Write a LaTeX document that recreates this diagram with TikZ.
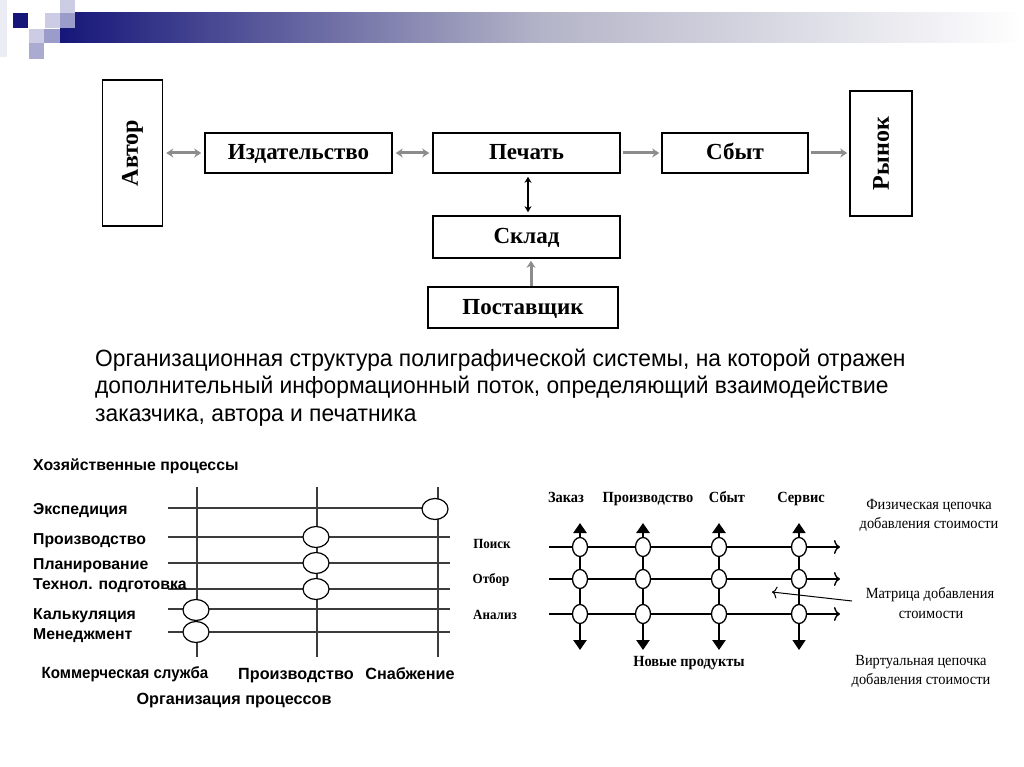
\documentclass[tikz,border=0pt]{standalone}
\usepackage{fontspec}
\setmainfont{Liberation Serif}
\newfontfamily\capfont[FakeStretch=0.97]{Liberation Sans}
\newfontfamily\lblfont{Liberation Sans}
\newfontfamily\nserfont[FakeStretch=0.93]{Liberation Serif}
\usetikzlibrary{shapes.geometric,arrows.meta}
\pgfdeclarelayer{back}
\pgfdeclarelayer{bg}
\pgfsetlayers{back,bg,main}
\definecolor{navy}{RGB}{22,22,122}
\definecolor{navymid}{RGB}{180,180,200}
\definecolor{sqlight}{RGB}{204,204,228}
\definecolor{sqmid}{RGB}{156,156,202}
\definecolor{sqfaint}{RGB}{236,236,244}
\definecolor{arrgray}{RGB}{140,140,140}
\definecolor{gridgray}{RGB}{60,60,60}
\tikzset{
  box/.style={draw=black,line width=1.6pt,fill=white,inner sep=0pt,text height=13pt,text depth=0pt,font=\fontsize{23}{26}\selectfont\bfseries},
  vtext/.style={rotate=90,inner sep=0pt,font=\fontsize{24}{26}\selectfont\bfseries},
  garrow/.style={draw=arrgray,line width=3pt,-{Stealth[length=7pt,width=9pt]}},
  gdarrow/.style={draw=arrgray,line width=3pt,{Stealth[length=7pt,width=9pt]}-{Stealth[length=7pt,width=9pt]}},
  caption/.style={anchor=base west,inner sep=0pt,font=\capfont\fontsize{23.5}{27}\selectfont},
  llabel/.style={anchor=base west,inner sep=0pt,font=\lblfont\fontsize{15.8}{18}\selectfont\bfseries},
  blabel/.style={anchor=base,inner sep=0pt,font=\lblfont\fontsize{16.2}{18}\selectfont\bfseries},
  rlabel/.style={anchor=base,inner sep=0pt,font=\nserfont\fontsize{14}{16}\selectfont\bfseries},
  clabel/.style={anchor=base,inner sep=0pt,font=\nserfont\fontsize{15.5}{17}\selectfont\bfseries},
  note/.style={anchor=base,inner sep=0pt,font=\nserfont\fontsize{15.5}{17}\selectfont},
  lgrid/.style={draw=gridgray,line width=1.5pt},
  lell/.style={draw=black,line width=1.2pt,fill=white,ellipse,minimum width=26pt,minimum height=21pt,inner sep=0pt},
  rell/.style={draw=black,line width=1.3pt,fill=white,ellipse,minimum width=15pt,minimum height=19pt,inner sep=0pt},
  rhline/.style={draw=black,line width=2.8pt,-{To[length=6pt,width=14pt,line width=1.4pt]}},
  rvline/.style={draw=black,line width=2.8pt},
  rvthin/.style={draw=black,line width=1.3pt},
  uptip/.style={-{Triangle[length=10pt,width=13pt]}},
}
\begin{document}
\begin{tikzpicture}[x=1pt,y=-1pt]
\useasboundingbox (0,0) rectangle (1024,767);
\begin{pgfonlayer}{back}
\fill[white] (0,0) rectangle (1024,767);
\end{pgfonlayer}

% ---------- header ----------
\shade[left color=navy,right color=white,middle color=navymid] (60,13) rectangle (1024,43);
\fill[sqfaint] (0,0) rectangle (7,57);
\fill[sqlight] (60,0) rectangle (75,13);
\fill[navy] (13,13) rectangle (28,28);
\fill[sqlight] (45,13) rectangle (60,28);
\fill[sqmid] (60,13) rectangle (75,28);
\fill[sqlight] (29,29) rectangle (44,43);
\fill[sqmid] (44,29) rectangle (60,43);
\fill[sqmid!85!white] (29,43) rectangle (44,59);

% ---------- top diagram ----------
\node[box,minimum width=60pt,minimum height=146pt] (avtor) at (132.5,153) {};
\node[vtext] (avtort) at (avtor.center) {Автор};
\node[box,minimum width=187pt,minimum height=40pt] (izd) at (298.5,153) {Издательство};
\node[box,minimum width=187pt,minimum height=40pt] (pech) at (526.5,153) {Печать};
\node[box,minimum width=146pt,minimum height=40pt] (sbyt) at (735,153) {Сбыт};
\node[box,minimum width=62pt,minimum height=125pt] (rynok) at (881,153.5) {};
\node[vtext] (rynokt) at (rynok.center) {Рынок};
\node[box,minimum width=187pt,minimum height=42pt] (sklad) at (526.5,237) {Склад};
\node[box,minimum width=190pt,minimum height=41pt] (post) at (523,307.5) {Поставщик};

\draw[gdarrow,shorten <=3pt,shorten >=3pt] (avtor.east |- izd.west) -- (izd.west);
\draw[gdarrow,shorten <=3pt,shorten >=3pt] (izd.east) -- (pech.west);
\draw[garrow,shorten <=2pt,shorten >=2pt] (pech.east) -- (sbyt.west);
\draw[garrow,shorten <=2pt,shorten >=2pt] (sbyt.east) -- (sbyt.east -| rynok.west);
\draw[black,line width=1.3pt,{Stealth[length=6pt,width=7pt]}-{Stealth[length=6pt,width=7pt]},shorten <=3pt,shorten >=3pt]
  ([xshift=1.5pt]pech.south) -- ([xshift=1.5pt]sklad.north);
\draw[garrow,shorten >=2pt] ([xshift=8pt]post.north) -- ([xshift=8pt]post.north |- sklad.south);

% ---------- caption ----------
\node[caption] (cap1) at (95,366) {Организационная структура полиграфической системы, на которой отражен};
\node[caption] (cap2) at (95,393) {дополнительный информационный поток, определяющий взаимодействие};
\node[caption] (cap3) at (95,421) {заказчика, автора и печатника};

% ---------- bottom-left diagram ----------
\node[llabel] (hoz) at (33,470) {Хозяйственные процессы};
\node[llabel] (l1) at (33,514) {Экспедиция};
\node[llabel] (l2) at (33,544) {Производство};
\node[llabel] (l3) at (33,569) {Планирование};
\node[llabel] (l4) at (33,589) {Технол. подготовка};
\node[llabel] (l5) at (33,619) {Калькуляция};
\node[llabel] (l6) at (33,639) {Менеджмент};

\foreach \n/\y in {1/508,2/537,3/563,4/589,5/609,6/632}{
  \coordinate (hs\n) at (168,\y);
  \coordinate (he\n) at (450,\y);
}
\coordinate (he1) at (430,508);
\foreach \n/\x in {1/197,2/317,3/438}{
  \coordinate (vs\n) at (\x,487);
  \coordinate (ve\n) at (\x,657);
}
\begin{pgfonlayer}{bg}
\foreach \n in {1,...,6}{ \draw[lgrid] (hs\n) -- (he\n); }
\foreach \n in {1,2,3}{ \draw[lgrid] (vs\n) -- (ve\n); }
\end{pgfonlayer}
\node[lell] (e1) at (435,509) {};
\node[lell] (e2) at (316,537) {};
\node[lell] (e3) at (316,563) {};
\node[lell] (e4) at (316,589) {};
\node[lell] (e5) at (196,610) {};
\node[lell] (e6) at (196,632) {};

\node[blabel] (b1) at (125,678) {\addfontfeature{FakeStretch=0.93}Коммерческая служба};
\node[blabel] (b2) at (296,679) {Производство};
\node[blabel] (b3) at (410,679) {Снабжение};
\node[blabel] (b4) at (234,704) {Организация процессов};

\node[rlabel] (poisk) at (492,548) {Поиск};
\node[rlabel] (otbor) at (491,583) {Отбор};
\node[rlabel] (analiz) at (495,619) {Анализ};

% ---------- right diagram ----------
\foreach \c/\x in {1/580,2/643,3/719,4/799}{
  \coordinate (top\c) at (\x,523);
  \coordinate (bot\c) at (\x,650);
  \foreach \r/\y in {1/547,2/579,3/614}{
    \coordinate (p\r\c) at (\x,\y);
  }
}
\foreach \r/\y in {1/547,2/579,3/614}{
  \coordinate (rs\r) at (549,\y);
  \coordinate (re\r) at (840,\y);
}
\begin{pgfonlayer}{bg}
\foreach \r in {1,2,3}{ \draw[rhline] (rs\r) -- (re\r); }
\foreach \c in {1,2,3}{
  \draw[rvline,uptip] (p1\c) -- (top\c);
  \draw[rvline] (p1\c) -- (p3\c);
  \draw[rvline,uptip] (p3\c) -- (bot\c);
}
\draw[rvthin,uptip] (p14) -- (top4);
\draw[rvthin] (p14) -- (p34);
\draw[rvthin,uptip] (p34) -- (bot4);
\end{pgfonlayer}
\foreach \r in {1,2,3}{
  \foreach \c in {1,2,3,4}{
    \node[rell] (c\r\c) at (p\r\c) {};
  }
}

\node[clabel] (zakaz) at (566,502) {Заказ};
\node[clabel] (proizv) at (648,502) {Производство};
\node[clabel] (sbytl) at (727,502) {Сбыт};
\node[clabel] (servis) at (801,502) {Сервис};
\node[clabel] (novye) at (689,666) {Новые продукты};

\node[note] (n1a) at (929,509) {Физическая цепочка};
\node[note] (n1b) at (929,528) {добавления стоимости};
\node[note] (n2a) at (930,598) {Матрица добавления};
\node[note] (n2b) at (931,618) {стоимости};
\node[note] (n3a) at (921,665) {Виртуальная цепочка};
\node[note] (n3b) at (921,684) {добавления стоимости};

\coordinate (mstart) at (852,601);
\coordinate (mtip) at (772,592);
\draw[black,line width=1pt,-{To[length=5pt,width=12pt,line width=1pt]}] (mstart) -- (mtip);
\end{tikzpicture}
\end{document}
